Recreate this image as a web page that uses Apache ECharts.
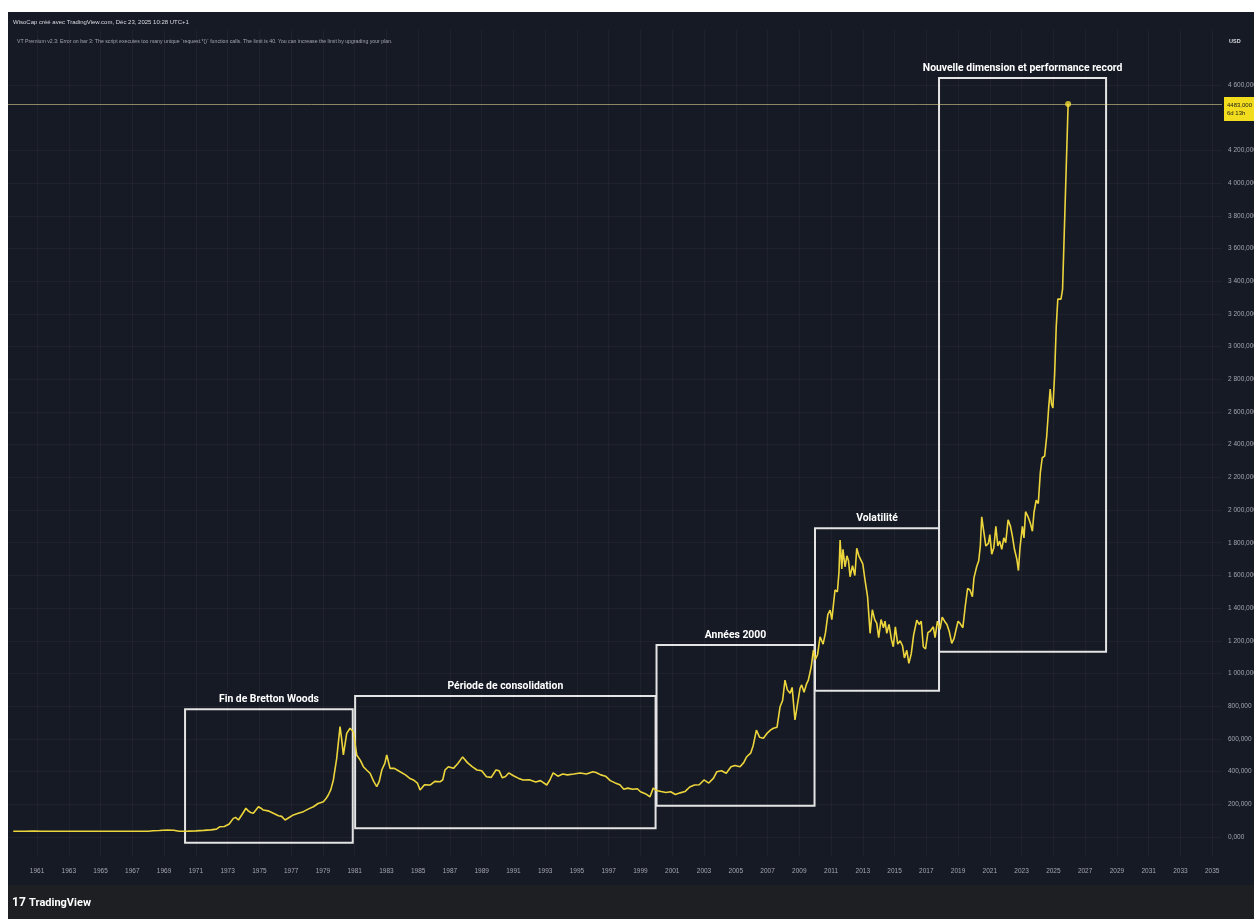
<!DOCTYPE html>
<html><head><meta charset="utf-8">
<script src="https://cdn.jsdelivr.net/npm/echarts@6/dist/echarts.min.js"></script>
<style>html,body{margin:0;padding:0;background:#fff;overflow:hidden}#c{width:1254px;height:919px}</style>
</head><body><div id="c"></div>
<script>
// ---- data (decimal year, gold price USD) ----
const dates = [1959.5,1960.2,1960.8,1961.3,1962.0,1963.0,1964.0,1965.0,1966.0,1967.0,1968.0,1968.3,1968.7,1969.2,1969.6,1969.95,1970.5,1971.0,1971.5,1971.95,
1972.3,1972.52,1972.8,1973.1,1973.36,1973.5,1973.68,1973.99,1974.15,1974.3,1974.45,1974.62,1974.94,1975.1,1975.25,1975.55,1975.88,1976.2,1976.4,1976.62,1976.85,1977.14,1977.45,1977.77,1978.1,1978.4,1978.7,1979.03,1979.2,1979.34,1979.5,1979.66,1979.87,
1980.08,1980.18,1980.29,1980.5,1980.71,1980.92,1981.13,1981.35,1981.55,1981.75,1981.97,1982.2,1982.39,1982.55,1982.71,1982.9,1983.02,1983.23,1983.5,1983.86,1984.2,1984.45,1984.7,1984.95,1985.12,1985.4,1985.75,1986.05,1986.38,1986.55,1986.69,1986.9,1987.22,1987.5,1987.8,
1988.1,1988.4,1988.7,1989.0,1989.3,1989.6,1989.9,1990.1,1990.3,1990.5,1990.7,1991.0,1991.3,1991.6,1992.0,1992.4,1992.7,1993.1,1993.3,1993.5,1993.8,1994.1,1994.4,1994.8,1995.2,1995.6,1996.0,1996.2,1996.5,1996.8,1997.1,1997.4,1997.7,1997.95,1998.2,1998.5,1998.8,1999.0,1999.3,1999.6,1999.8,
2000.0,2000.3,2000.6,2000.9,2001.2,2001.5,2001.8,2002.1,2002.4,2002.7,2003.0,2003.3,2003.6,2003.8,2004.1,2004.4,2004.7,2004.95,2005.27,2005.5,2005.69,2005.95,2006.1,2006.3,2006.5,2006.74,2006.95,2007.2,2007.37,2007.6,2007.79,2007.95,2008.1,2008.25,2008.42,2008.55,2008.73,2008.9,2009.05,2009.15,2009.3,2009.45,2009.57,2009.75,2009.89,
2010.0,2010.15,2010.31,2010.5,2010.65,2010.8,2010.94,2011.05,2011.25,2011.4,2011.5,2011.57,2011.68,2011.75,2011.88,2012.0,2012.1,2012.2,2012.35,2012.5,2012.62,2012.75,2012.9,2013.0,2013.14,2013.3,2013.46,2013.6,2013.75,2013.88,2014.0,2014.15,2014.3,2014.4,2014.51,2014.65,2014.8,2014.92,2015.05,2015.2,2015.35,2015.5,2015.62,2015.77,2015.9,
2016.05,2016.2,2016.4,2016.55,2016.68,2016.81,2016.95,2017.1,2017.25,2017.44,2017.55,2017.7,2017.86,2018.0,2018.15,2018.3,2018.45,2018.6,2018.75,2018.9,2019.0,2019.12,2019.3,2019.45,2019.6,2019.75,2019.9,2020.0,2020.17,2020.3,2020.4,2020.49,2020.6,2020.75,2020.91,
2021.0,2021.12,2021.25,2021.38,2021.5,2021.62,2021.75,2021.88,2022.0,2022.15,2022.3,2022.42,2022.55,2022.7,2022.8,2022.9,2023.05,2023.15,2023.25,2023.4,2023.55,2023.68,2023.78,2023.92,2024.05,2024.18,2024.3,2024.45,2024.58,2024.7,2024.8,2024.88,2024.97,2025.08,2025.18,2025.28,2025.38,2025.48,2025.58,2025.93];
const gold = [35.1,35.1,36.0,35.3,35.2,35.1,35.1,35.1,35.2,35.2,35.2,38,40,43,41,35.3,35.8,37.5,40.5,43.5,
48,63,64,80,114,120,104,150,176,160,150,145,185,176,165,160,145,130,126,104,118,135,145,155,172,185,205,216,235,257,290,349,481,
675,600,502,634,665,644,502,470,430,410,390,340,308,340,410,450,502,420,420,399,380,360,349,330,287,320,318,340,338,350,410,430,420,450,490,
455,430,410,405,369,365,410,405,362,370,392,375,360,349,350,337,345,318,350,392,372,385,380,385,392,385,399,395,380,372,345,331,320,292,299,292,295,277,265,246,299,
285,278,272,277,260,270,278,306,318,320,349,330,360,399,405,390,430,438,430,455,491,515,560,654,610,604,632,655,665,672,797,835,960,900,879,915,716,820,910,930,885,935,960,1040,1144,
1085,1115,1225,1180,1250,1360,1388,1330,1511,1500,1620,1817,1640,1760,1653,1720,1690,1592,1660,1600,1766,1720,1690,1670,1572,1470,1246,1390,1330,1307,1220,1330,1280,1320,1246,1300,1210,1164,1285,1180,1200,1170,1095,1142,1062,
1120,1235,1327,1300,1320,1164,1150,1250,1260,1286,1220,1320,1270,1345,1320,1300,1255,1185,1215,1280,1320,1307,1280,1410,1520,1511,1470,1585,1653,1690,1780,1959,1880,1780,1796,
1850,1730,1770,1900,1780,1810,1760,1830,1800,1940,1900,1840,1760,1700,1630,1770,1900,1830,1990,1960,1920,1870,1985,2060,2040,2230,2320,2330,2450,2620,2740,2650,2625,2830,3120,3290,3300,3290,3350,4483];

const xTicks = [1961,1963,1965,1967,1969,1971,1973,1975,1977,1979,1981,1983,1985,1987,1989,1991,1993,1995,1997,1999,2001,2003,2005,2007,2009,2011,2013,2015,2017,2019,2021,2023,2025,2027,2029,2031,2033,2035];
const yTicks = [0,200,400,600,800,1000,1200,1400,1600,1800,2000,2200,2400,2600,2800,3000,3200,3400,3600,3800,4000,4200,4600];

// annotation boxes (x in years, y in USD)
const boxNames = ['Fin de Bretton Woods','Période de consolidation','Années 2000','Volatilité','Nouvelle dimension et performance record'];
const boxX0 = [1970.32,1981.03,2000.01,2009.99,2017.80];
const boxX1 = [1980.88,1999.95,2009.96,2017.80,2028.32];
const boxYLow = [-35,53,191,895,1133];
const boxYHigh = [781,862,1174,1888,4643];

const lastPrice = gold[gold.length-1];
const lastDate = dates[dates.length-1];

const chart = echarts.init(document.getElementById('c'), null, {renderer:'canvas'});

function fmtPrice(v){
  const s = String(Math.round(v));
  const t = s.length>3 ? s.slice(0,-3)+' '+s.slice(-3) : s;
  return t + ',000';
}

const areas = boxNames.map((n,i)=>[
  {name:n, xAxis:boxX0[i], yAxis:boxYHigh[i]},
  {xAxis:boxX1[i], yAxis:boxYLow[i]}
]);

const option = {
  backgroundColor:'#161a25',
  animation:false,
  grid:{left:8, right:32, top:30, bottom:62, outerBoundsMode:'none', containLabel:false},
  xAxis:{
    type:'value', min:1959.17, max:2035.62,
    axisLine:{show:false},
    axisTick:{show:false, customValues:xTicks},
    axisLabel:{customValues:xTicks, formatter:v=>String(v), color:'#a3a6af', fontSize:6.5, margin:11, fontFamily:'Liberation Sans'},
    splitLine:{show:true, lineStyle:{color:'rgba(255,255,255,0.04)', width:1}}
  },
  yAxis:{
    type:'value', position:'right', min:-122.3, max:4936.4,
    axisLine:{show:false},
    axisTick:{show:false, customValues:yTicks},
    axisLabel:{customValues:yTicks, formatter:fmtPrice, color:'#a3a6af', fontSize:6.5, margin:6, align:'left', fontFamily:'Liberation Sans'},
    splitLine:{show:true, lineStyle:{color:'rgba(255,255,255,0.04)', width:1}}
  },
  series:[
    {
      type:'line', name:'Or',
      data:dates.map((d,i)=>[d,gold[i]]),
      showSymbol:false, symbol:'none',
      lineStyle:{color:'#ecd53c', width:1.6},
      z:4,
      markLine:{
        silent:true, symbol:['none','none'],
        lineStyle:{color:'rgba(235,225,150,0.55)', width:1, type:'solid'},
        label:{show:true, position:'end', distance:2, offset:[0,5],
          formatter:'4483,000\n6d 13h',
          backgroundColor:'#f2dc1e', color:'#1a1a1a', fontSize:6, lineHeight:8,
          padding:[4,6,4,3], fontFamily:'Liberation Sans'},
        data:[{yAxis:lastPrice}]
      },
      markArea:{
        silent:true,
        itemStyle:{color:'rgba(0,0,0,0)', borderColor:'#e4e4e4', borderWidth:2},
        label:{show:true, position:'top', distance:4, color:'#ffffff', fontWeight:'bold', fontSize:10.4,
          fontFamily:'Roboto, sans-serif'},
        data:areas
      }
    },
    {
      type:'scatter', data:[[lastDate,lastPrice]], symbolSize:6,
      itemStyle:{color:'#f2dc3a'}, z:5
    }
  ],
  graphic:[
    {type:'rect', shape:{x:0,y:0,width:1254,height:12}, style:{fill:'#ffffff'}, z:100},
    {type:'rect', shape:{x:0,y:0,width:8,height:919}, style:{fill:'#ffffff'}, z:100},
    {type:'rect', shape:{x:8,y:885,width:1246,height:34}, style:{fill:'#1e1f22'}, z:90},
    {type:'text', x:13, y:19, style:{text:'WisoCap créé avec TradingView.com, Déc 23, 2025 10:28 UTC+1', fill:'#d9dbe0', font:'6px Liberation Sans'}, z:95},
    {type:'text', x:17, y:39, style:{text:'VT Premium v2.3: Error on bar 3: The script executes too many unique `request.*()` function calls. The limit is 40. You can increase the limit by upgrading your plan.', fill:'#a3a6ae', font:'5.2px Liberation Sans'}, z:95},
    {type:'text', x:1229, y:38, style:{text:'USD', fill:'#d9dbe0', font:'bold 5.5px Liberation Sans'}, z:95},
    {type:'text', x:12, y:897, style:{
      text:'{a|17} {b|TradingView}',
      rich:{a:{fill:'#ffffff', fontSize:12, fontWeight:'bold', fontFamily:'Roboto'}, b:{fill:'#ffffff', fontSize:11, fontWeight:'bold', fontFamily:'Roboto'}}
    }, z:95}
  ]
};
chart.setOption(option);
</script>
</body></html>
